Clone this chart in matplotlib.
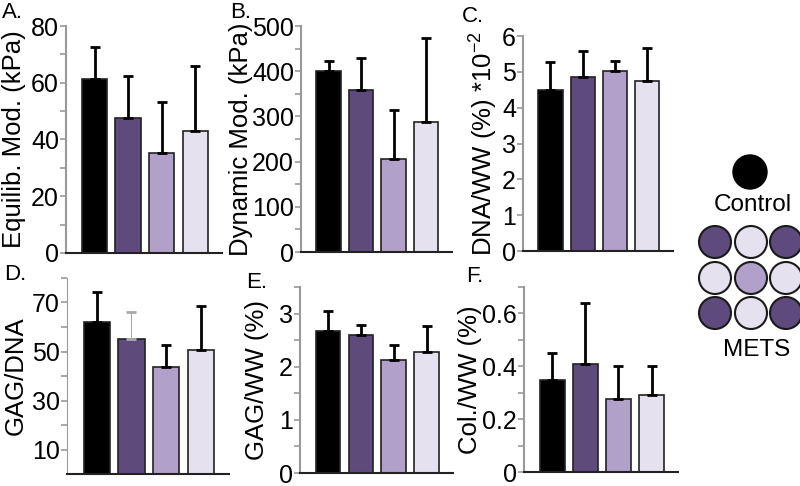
import matplotlib
matplotlib.use("Agg")
import matplotlib.pyplot as plt
from matplotlib.patches import Circle

plt.rcParams['font.family'] = ['Liberation Sans', 'DejaVu Sans']
plt.rcParams['mathtext.fontset'] = 'custom'
plt.rcParams['mathtext.rm'] = 'Liberation Sans'
plt.rcParams['mathtext.it'] = 'Liberation Sans:italic'

# group colours: control, METS variants
colors = ['#000000', '#5f4a7e', '#b1a0c9', '#e6e1ee']

# panel data (mean, upper error)
equil_mean = [61.3, 47.5, 35.2, 43.0]
equil_err = [11.2, 14.8, 18.0, 22.9]
dyn_mean = [401, 359, 205, 288]
dyn_err = [22, 71, 110, 185]
dna_mean = [4.50, 4.86, 5.03, 4.75]
dna_err = [0.78, 0.73, 0.28, 0.92]
gagdna_mean = [62.0, 55.1, 43.7, 50.6]
gagdna_err = [12.3, 11.0, 9.0, 18.0]
gagww_mean = [2.68, 2.59, 2.12, 2.27]
gagww_err = [0.36, 0.20, 0.28, 0.49]
col_mean = [0.347, 0.41, 0.275, 0.29]
col_err = [0.102, 0.23, 0.125, 0.11]

W, H = 800, 486
fig = plt.figure(figsize=(W / 100, H / 100), dpi=100)


def px_axes(left, right, bottom, top):
    return fig.add_axes([left / W, 1 - bottom / H, (right - left) / W, (bottom - top) / H])


def bar_panel(ax, mean, err, ylim, major, labels, ylabel, label_x, thin_err=None):
    x = range(len(mean))
    ax.bar(x, mean, width=0.75, color=colors, edgecolor='#222222', linewidth=1.2, zorder=2)
    for i in x:
        lw = 2.0
        c = 'black'
        if thin_err is not None and i in thin_err:
            lw, c = 0.8, '#aaaaaa'
        ax.errorbar(i, mean[i], yerr=[[0], [err[i]]], fmt='none', ecolor=c,
                    elinewidth=lw, capsize=3.5, capthick=2.0, zorder=3)
    ax.set_ylim(*ylim)
    ax.set_xlim(-0.85, 3.8)
    ax.set_yticks(major)
    ax.set_yticklabels(labels)
    ax.set_xticks([])
    for s in ['top', 'right']:
        ax.spines[s].set_visible(False)
    ax.spines['left'].set_color('#999999')
    ax.spines['left'].set_linewidth(1.5)
    ax.spines['bottom'].set_color('#222222')
    ax.spines['bottom'].set_linewidth(1.5)
    ax.tick_params(axis='y', length=4, width=1.2, color='#999999', labelsize=18, pad=1)
    ax.set_ylabel(ylabel, fontsize=18.5, va='center')
    # label centre given in figure pixels
    pos = ax.get_position()
    ax.yaxis.set_label_coords((label_x / W - pos.x0) / pos.width, 0.5)
    ax.patch.set_alpha(0)
    return ax


axA = px_axes(66, 222, 253, 26)
bar_panel(axA, equil_mean, equil_err, (0, 80), list(range(0, 81, 10)),
          ['0', '', '20', '', '40', '', '60', '', '80'], 'Equilib. Mod. (kPa)', 14)

axB = px_axes(301, 452, 252, 26)
bar_panel(axB, dyn_mean, dyn_err, (0, 500), list(range(0, 501, 50)),
          ['0', '', '100', '', '200', '', '300', '', '400', '', '500'], 'Dynamic Mod. (kPa)', 241)

axC = px_axes(523, 673, 251, 36)
bar_panel(axC, dna_mean, dna_err, (0, 6), list(range(0, 7)),
          [str(v) for v in range(0, 7)], r'DNA/WW (%) *10$^{-2}$', 484)

axD = px_axes(67, 229, 474, 278)
bar_panel(axD, gagdna_mean, gagdna_err, (0, 80), list(range(10, 81, 10)),
          ['10', '', '30', '', '50', '', '70', ''], 'GAG/DNA', 16, thin_err=[1])
axD.spines['left'].set_linewidth(0.8)

axE = px_axes(300, 453, 473, 287)
bar_panel(axE, gagww_mean, gagww_err, (0, 3.5), [0, 0.5, 1, 1.5, 2, 2.5, 3, 3.5],
          ['0', '', '1', '', '2', '', '3', ''], 'GAG/WW (%)', 257)

axF = px_axes(524, 678, 472, 287)
bar_panel(axF, col_mean, col_err, (0, 0.7), [0, 0.1, 0.2, 0.3, 0.4, 0.5, 0.6, 0.7],
          ['0', '', '0.2', '', '0.4', '', '0.6', ''], 'Col./WW (%)', 470)

# panel letters
for txt, xp, yp in [('A.', 2, 2), ('B.', 230, 2), ('C.', 462, 6),
                    ('D.', 4, 264), ('E.', 246, 272), ('F.', 466, 266)]:
    fig.text(xp / W, 1 - yp / H, txt, fontsize=16, ha='left', va='top')

# legend drawing
lg = fig.add_axes([0, 0, 1, 1])
lg.set_xlim(0, W)
lg.set_ylim(H, 0)
lg.axis('off')
lg.patch.set_alpha(0)
lg.add_patch(Circle((750, 172), 17, facecolor='black', edgecolor='black'))
lg.text(753, 205, 'Control', fontsize=17.5, ha='center', va='center')
grid = [[1, 3, 1], [3, 2, 3], [1, 3, 1]]
gx = [715, 751, 786]
gy = [242, 278, 313]
for r, row in enumerate(grid):
    for c, ci in enumerate(row):
        lg.add_patch(Circle((gx[c], gy[r]), 16, facecolor=colors[ci],
                            edgecolor='#1a1a1a', linewidth=1.5))
lg.text(757, 350, 'METS', fontsize=17.5, ha='center', va='center')

fig.savefig('out.png', dpi=100)
